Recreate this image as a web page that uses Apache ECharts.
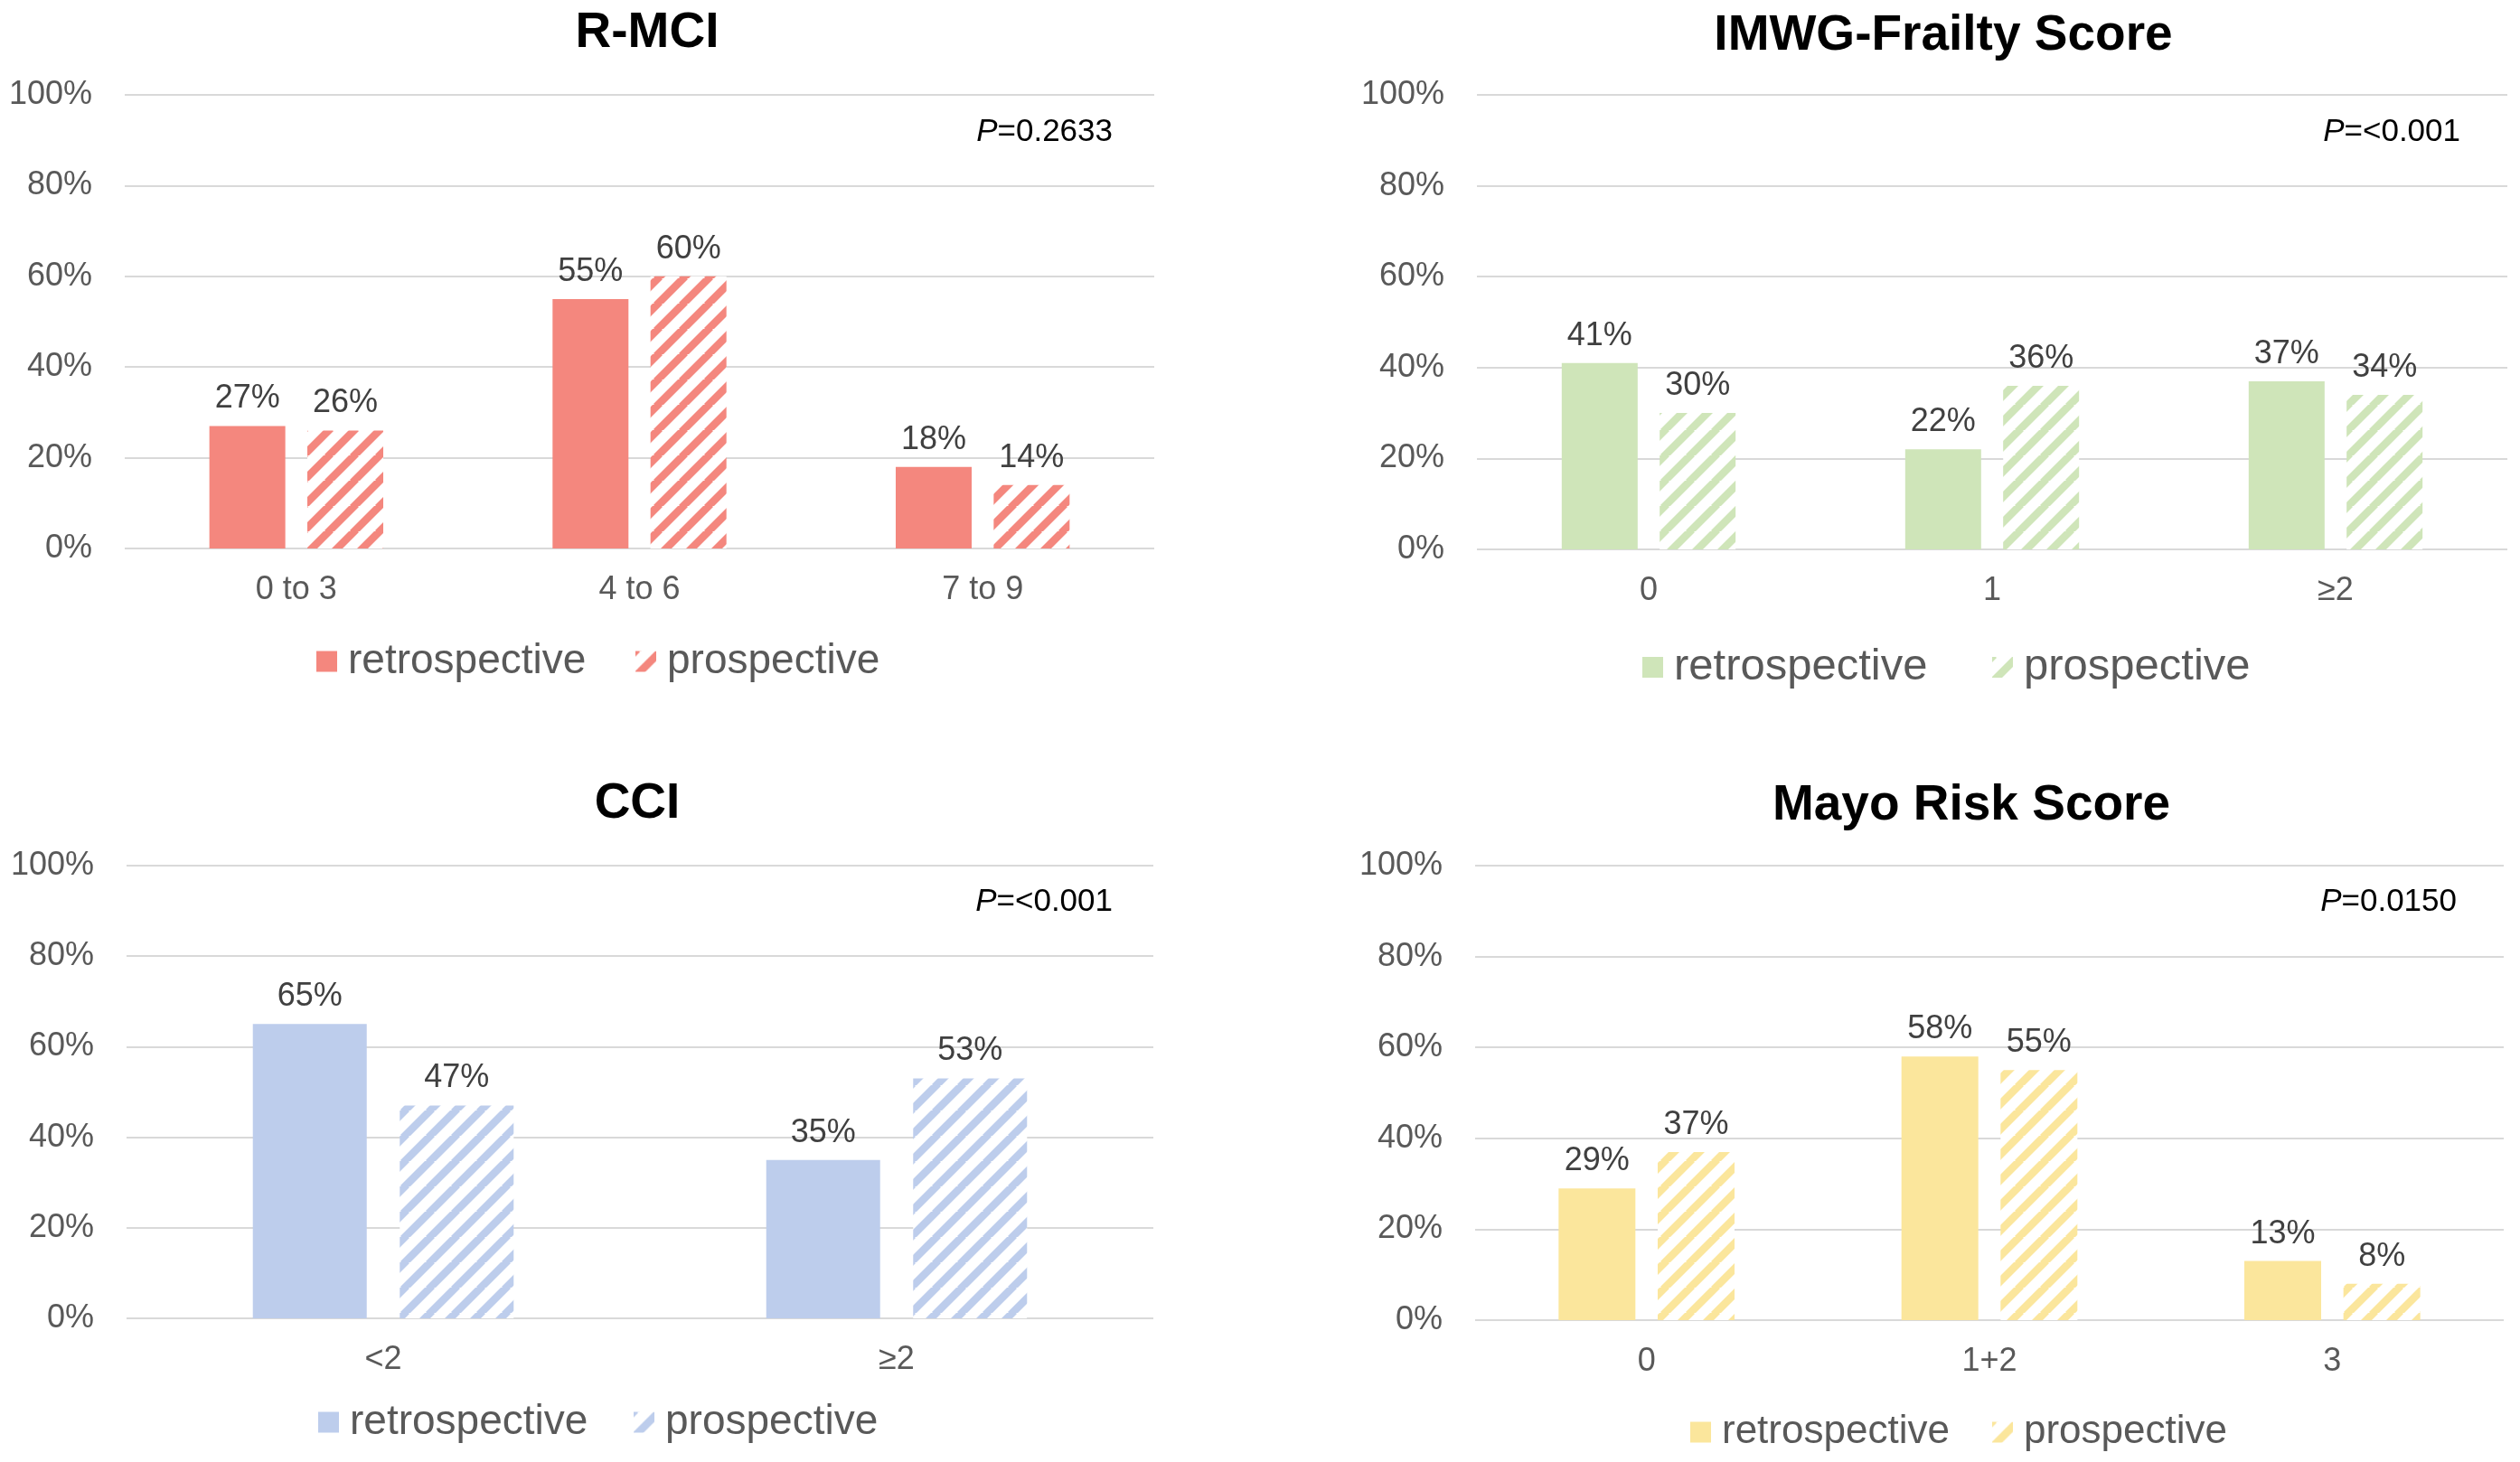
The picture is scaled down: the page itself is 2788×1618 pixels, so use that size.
<!DOCTYPE html>
<html>
<head>
<meta charset="utf-8">
<script src="https://cdn.jsdelivr.net/npm/echarts@6/dist/echarts.min.js"></script>
<style>
  html, body { margin: 0; padding: 0; background: #fff; }
  .panel { position: absolute; width: 1394px; height: 809px; }
</style>
</head>
<body>
<div id="p1" class="panel" style="left:0;top:0"></div>
<div id="p2" class="panel" style="left:1394px;top:0"></div>
<div id="p3" class="panel" style="left:0;top:809px"></div>
<div id="p4" class="panel" style="left:1394px;top:809px"></div>
<script>
// data (percent)
var rmciCats = ['0 to 3', '4 to 6', '7 to 9'];
var rmciRetro = [27, 55, 18];
var rmciProsp = [26, 60, 14];

var imwgCats = ['0', '1', '≥2'];
var imwgRetro = [41, 22, 37];
var imwgProsp = [30, 36, 34];

var cciCats = ['<2', '≥2'];
var cciRetro = [65, 35];
var cciProsp = [47, 53];

var mayoCats = ['0', '1+2', '3'];
var mayoRetro = [29, 58, 13];
var mayoProsp = [37, 55, 8];

var yMin = 0, yMax = 100, yStep = 20;

var FONT = '"Liberation Sans", Arial, sans-serif';

//斜线填充
function hatch(color) {
	var size = 28;
	var c = document.createElement('canvas');
	c.width = size;
	c.height = size;
	var ctx = c.getContext('2d');
	ctx.fillStyle = '#fff';
	ctx.fillRect(0, 0, size, size);
	ctx.strokeStyle = color;
	ctx.lineWidth = 8.5;
	for (var k = -1; k <= 1; k++) {
		ctx.beginPath();
		ctx.moveTo(k * size - 2, size + 2);
		ctx.lineTo(k * size + size + 2, -2);
		ctx.stroke();
	}
	return { image: c, repeat: 'repeat' };
}

function makeOption(cfg) {
	var labelStyle = {
		show: true,
		position: 'top',
		distance: 12,
		formatter: '{c}%',
		fontFamily: FONT,
		fontSize: 36,
		color: '#404040'
	};
	var legendText = {
		fontFamily: FONT,
		fontSize: cfg.legendSize,
		color: '#595959',
		padding: [0, 0, 0, 7]
	};
	return {
		animation: false,
		title: [{
			text: cfg.title,
			left: cfg.titleX,
			top: cfg.titleTop,
			textAlign: 'center',
			textStyle: {
				fontFamily: FONT,
				fontSize: 55,
				fontWeight: 'bold',
				color: '#000'
			}
		}, {
			text: '{i|P}{n|' + cfg.p + '}',
			right: cfg.pRight,
			top: cfg.pTop,
			textStyle: {
				fontWeight: 'normal',
				rich: {
					i: { fontFamily: FONT, fontSize: 35, fontStyle: 'italic', fontWeight: 'normal', color: '#000' },
					n: { fontFamily: FONT, fontSize: 35, fontWeight: 'normal', color: '#000' }
				}
			}
		}],
		legend: [{
			data: ['retrospective'],
			left: cfg.legRetro,
			top: cfg.legTop,
			icon: 'rect',
			itemWidth: 23,
			itemHeight: 23,
			selectedMode: false,
			textStyle: legendText
		}, {
			data: ['prospective'],
			left: cfg.legProsp,
			top: cfg.legTop,
			icon: 'rect',
			itemWidth: 23,
			itemHeight: 23,
			selectedMode: false,
			textStyle: legendText
		}],
		grid: cfg.grid,
		xAxis: {
			type: 'category',
			data: cfg.cats,
			axisLine: { show: false },
			axisTick: { show: false },
			axisLabel: {
				margin: 28,
				fontFamily: FONT,
				fontSize: 36,
				color: '#595959'
			}
		},
		yAxis: {
			type: 'value',
			min: yMin,
			max: yMax,
			interval: yStep,
			axisLine: { show: false },
			axisTick: { show: false },
			axisLabel: {
				margin: 36,
				formatter: '{value}%',
				fontFamily: FONT,
				fontSize: 36,
				color: '#595959'
			},
			splitLine: {
				show: true,
				lineStyle: { color: '#d9d9d9', width: 2 }
			}
		},
		series: [{
			name: 'retrospective',
			type: 'bar',
			barWidth: cfg.barWidth,
			barGap: '29%',
			itemStyle: { color: cfg.color },
			label: labelStyle,
			data: cfg.retro
		}, {
			name: 'prospective',
			type: 'bar',
			barWidth: cfg.barWidth,
			barGap: '29%',
			itemStyle: { color: hatch(cfg.color) },
			label: labelStyle,
			data: cfg.prosp
		}]
	};
}

var panels = [{
	id: 'p1', title: 'R-MCI', titleX: 711, titleTop: 4,
	p: '=0.2633', pRight: 158, pTop: 124,
	cats: rmciCats, retro: rmciRetro, prosp: rmciProsp,
	color: '#f4877e', barWidth: 84,
	grid: { left: 138, right: 117, top: 105, bottom: 202 },
	legRetro: 345, legProsp: 698, legTop: 704, legendSize: 46
}, {
	id: 'p2', title: 'IMWG-Frailty Score', titleX: 751, titleTop: 7,
	p: '=<0.001', pRight: 61, pTop: 124,
	cats: imwgCats, retro: imwgRetro, prosp: imwgProsp,
	color: '#cfe5b9', barWidth: 84,
	grid: { left: 240, right: 14, top: 105, bottom: 201 },
	legRetro: 418, legProsp: 805, legTop: 709, legendSize: 49
}, {
	id: 'p3', title: 'CCI', titleX: 700, titleTop: 48,
	p: '=<0.001', pRight: 158, pTop: 167,
	cats: cciCats, retro: cciRetro, prosp: cciProsp,
	color: '#bdcdec', barWidth: 126,
	grid: { left: 140, right: 118, top: 149, bottom: 159 },
	legRetro: 347, legProsp: 696, legTop: 737, legendSize: 46
}, {
	id: 'p4', title: 'Mayo Risk Score', titleX: 782, titleTop: 50,
	p: '=0.0150', pRight: 65, pTop: 167,
	cats: mayoCats, retro: mayoRetro, prosp: mayoProsp,
	color: '#fbe69c', barWidth: 85,
	grid: { left: 238, right: 18, top: 149, bottom: 157 },
	legRetro: 471, legProsp: 805, legTop: 749, legendSize: 44
}];

panels.forEach(function(cfg) {
	var chart = echarts.init(document.getElementById(cfg.id));
	chart.setOption(makeOption(cfg));
});
</script>
</body>
</html>
